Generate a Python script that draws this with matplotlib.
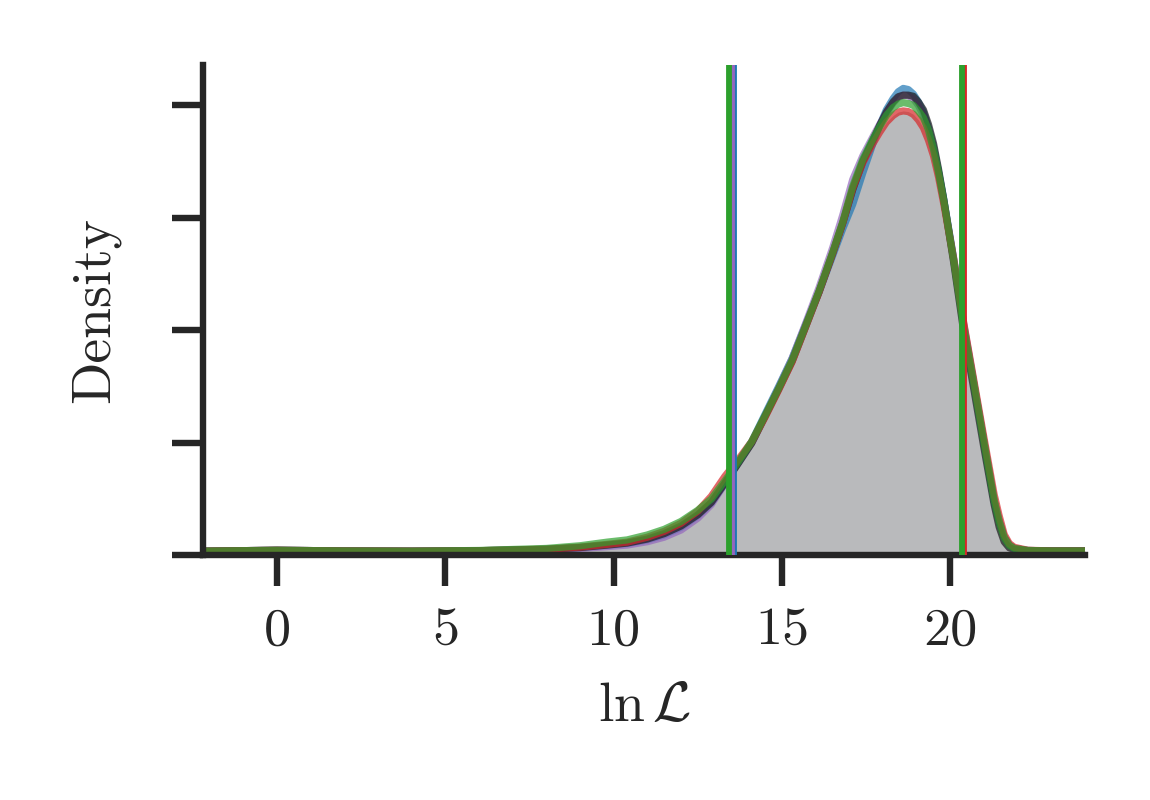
import matplotlib
matplotlib.use("Agg")
import matplotlib.pyplot as plt

plt.rcParams['font.family'] = ['cmr10', 'DejaVu Serif']
plt.rcParams['mathtext.fontset'] = 'cm'
plt.rcParams['axes.unicode_minus'] = False
plt.rcParams['axes.formatter.use_mathtext'] = True

# grid of ln L values at which the curves were read
lnL = [-2.2, 0.0, 2.0, 4.0, 6.0, 8.0, 9.0, 9.8, 10.4, 11.0, 11.5, 12.0, 12.5, 12.9,
       13.3, 13.7, 14.1, 14.5, 14.9, 15.3, 15.7, 16.1, 16.5, 16.8, 17.1, 17.4, 17.7,
       17.9, 18.1, 18.3, 18.45, 18.6, 18.75, 18.9, 19.05, 19.2, 19.35, 19.5, 19.65,
       19.8, 20.1, 20.4, 20.7, 21.0, 21.3, 21.45, 21.6, 21.75, 21.9, 22.3, 23.0, 24.0]

dens_blue = [0.0018, 0.0022, 0.0019, 0.0018, 0.0020, 0.0026, 0.0034, 0.0044, 0.0052, 0.0068,
             0.0090, 0.0124, 0.0176, 0.0232, 0.0318, 0.0412, 0.0505, 0.0628, 0.0750, 0.0875,
             0.1025, 0.1170, 0.1330, 0.1450, 0.1560, 0.1700, 0.1830,
             0.1910, 0.1980, 0.2030, 0.2060, 0.2075, 0.2070, 0.2050, 0.2015, 0.1970, 0.1900,
             0.1815, 0.1705, 0.1585, 0.1315, 0.1020, 0.0760, 0.0500,
             0.0240, 0.0150, 0.0080, 0.0045, 0.0030, 0.0021, 0.0019, 0.0019]
dens_purple = [0.0018, 0.0022, 0.0019, 0.0018, 0.0019, 0.0024, 0.0030, 0.0038, 0.0045, 0.0060,
               0.0080, 0.0112, 0.0165, 0.0225, 0.0318, 0.0410, 0.0500, 0.0622, 0.0745, 0.0875,
               0.1030, 0.1190, 0.1365, 0.1510, 0.1670, 0.1775, 0.1860,
               0.1915, 0.1965, 0.2010, 0.2035, 0.2045, 0.2042, 0.2030, 0.2000, 0.1955, 0.1890,
               0.1805, 0.1700, 0.1580, 0.1320, 0.1025, 0.0765, 0.0505,
               0.0245, 0.0155, 0.0080, 0.0045, 0.0030, 0.0021, 0.0019, 0.0019]
dens_red = [0.0018, 0.0022, 0.0019, 0.0018, 0.0020, 0.0027, 0.0036, 0.0048, 0.0058, 0.0080,
            0.0106, 0.0142, 0.0196, 0.0262, 0.0350, 0.0425, 0.0505, 0.0615, 0.0735, 0.0860,
            0.1015, 0.1170, 0.1340, 0.1475, 0.1630, 0.1745, 0.1830,
            0.1880, 0.1925, 0.1955, 0.1970, 0.1975, 0.1972, 0.1960, 0.1935, 0.1900, 0.1845,
            0.1775, 0.1680, 0.1565, 0.1315, 0.1030, 0.0775, 0.0520,
            0.0270, 0.0175, 0.0092, 0.0052, 0.0035, 0.0022, 0.0019, 0.0019]
dens_black = [0.0018, 0.0022, 0.0019, 0.0018, 0.0020, 0.0026, 0.0034, 0.0045, 0.0054, 0.0072,
              0.0096, 0.0130, 0.0180, 0.0235, 0.0320, 0.0408, 0.0498, 0.0618, 0.0738, 0.0862,
              0.1015, 0.1170, 0.1340, 0.1475, 0.1625, 0.1750, 0.1845,
              0.1910, 0.1970, 0.2015, 0.2038, 0.2045, 0.2045, 0.2040, 0.2015, 0.1980, 0.1915,
              0.1830, 0.1715, 0.1585, 0.1300, 0.0990, 0.0735, 0.0475,
              0.0225, 0.0125, 0.0060, 0.0033, 0.0025, 0.0020, 0.0019, 0.0019]
dens_green = [0.0018, 0.0022, 0.0019, 0.0018, 0.0021, 0.0030, 0.0042, 0.0058, 0.0068, 0.0090,
              0.0115, 0.0150, 0.0200, 0.0250, 0.0330, 0.0415, 0.0505, 0.0622, 0.0742, 0.0868,
              0.1020, 0.1175, 0.1345, 0.1480, 0.1640, 0.1760, 0.1850,
              0.1905, 0.1955, 0.1990, 0.2005, 0.2012, 0.2008, 0.2000, 0.1975, 0.1945, 0.1890,
              0.1805, 0.1700, 0.1580, 0.1310, 0.1010, 0.0760, 0.0500,
              0.0245, 0.0150, 0.0078, 0.0044, 0.0030, 0.0021, 0.0019, 0.0019]

# interval markers
lower_bounds = {'blue': 13.58, 'purple': 13.52, 'green': 13.43}
upper_bounds = {'red': 20.41, 'green': 20.34}

colors = {'blue': '#1f77b4', 'red': '#d62728', 'purple': '#9467bd',
          'black': '#1a1a1a', 'green': '#2ca02c'}
ink = '#262626'

fig = plt.figure(figsize=(5.75, 4), dpi=200)
ax = fig.add_axes([0.1765, 0.306, 0.767, 0.613])

ax.fill_between(lnL, 0, dens_red, color='#b9babc', lw=0, zorder=1)

series = [('blue', dens_blue), ('purple', dens_purple), ('black', dens_black),
          ('red', dens_red), ('green', dens_green)]
for name, d in series:
    ax.plot(lnL, d, color=colors[name], lw=2.6, alpha=0.7,
            solid_capstyle='round', solid_joinstyle='round', zorder=2)

for name, xv in lower_bounds.items():
    ax.axvline(xv, color=colors[name], lw=2.1, zorder=3)
for name, xv in upper_bounds.items():
    ax.axvline(xv, color=colors[name], lw=2.1, zorder=3)

ax.set_xlim(-2.2, 24.0)
ax.set_ylim(0, 0.218)
ax.set_xticks([0, 5, 10, 15, 20])
ax.set_xticklabels(['0', '5', '10', '15', '20'])
ax.set_yticks([0, 0.05, 0.1, 0.15, 0.2])
ax.set_yticklabels([])

for side in ['top', 'right']:
    ax.spines[side].set_visible(False)
for side in ['left', 'bottom']:
    ax.spines[side].set_linewidth(2.3)
    ax.spines[side].set_color(ink)
ax.tick_params(axis='both', direction='out', length=11, width=2.3, color=ink,
               labelsize=19.5, labelcolor=ink, pad=8)

ax.set_xlabel(r'$\ln\mathcal{L}$', fontsize=20, color=ink, labelpad=10)
ax.set_ylabel('Density', fontsize=20, color=ink, labelpad=11)

fig.savefig('out.png', dpi=200)
